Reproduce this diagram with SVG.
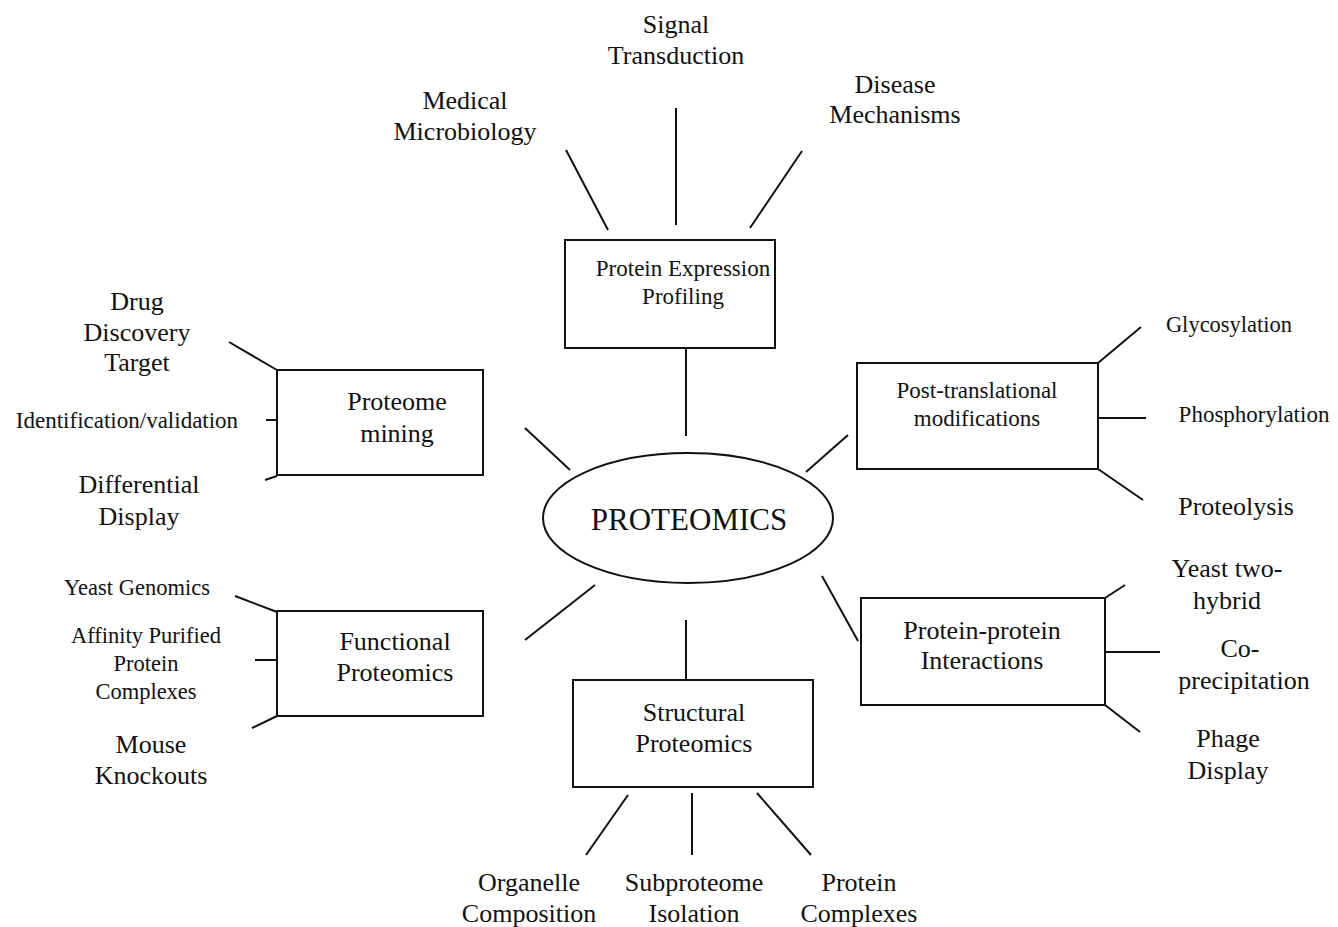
<svg xmlns="http://www.w3.org/2000/svg" width="1338" height="927" viewBox="0 0 1338 927">
<style>
text{font-family:"Liberation Serif","Times New Roman",serif;fill:#111;text-anchor:middle}
.l{font-size:26px}
.s{font-size:22.5px}
.b{font-size:23px}
.box{fill:#fff;stroke:#111;stroke-width:2}
.c line{stroke:#111;stroke-width:2}
</style>
<rect width="1338" height="927" fill="#fff"/>
<g class="c" id="connectors">
<line x1="686" y1="348" x2="686" y2="436"/>
<line x1="525" y1="428" x2="570" y2="470"/>
<line x1="806" y1="472" x2="848" y2="435"/>
<line x1="525" y1="640" x2="595" y2="585"/>
<line x1="822" y1="576" x2="858" y2="641"/>
<line x1="686" y1="620" x2="686" y2="680"/>
<line x1="566" y1="150" x2="608" y2="230"/>
<line x1="676" y1="108" x2="676" y2="225"/>
<line x1="802" y1="151" x2="750" y2="228"/>
<line x1="229" y1="342" x2="277" y2="370"/>
<line x1="266" y1="420" x2="277" y2="420"/>
<line x1="265" y1="480" x2="277" y2="476"/>
<line x1="1098" y1="363" x2="1141" y2="327"/>
<line x1="1098" y1="418" x2="1146" y2="418"/>
<line x1="1098" y1="469" x2="1143" y2="500"/>
<line x1="1105" y1="598" x2="1125" y2="585"/>
<line x1="1105" y1="652" x2="1160" y2="652"/>
<line x1="1105" y1="705" x2="1140" y2="732"/>
<line x1="235" y1="596" x2="277" y2="612"/>
<line x1="255" y1="660" x2="277" y2="660"/>
<line x1="252" y1="728" x2="277" y2="716"/>
<line x1="628" y1="795" x2="586" y2="855"/>
<line x1="692" y1="793" x2="692" y2="855"/>
<line x1="757" y1="793" x2="811" y2="855"/>
</g>
<g id="center">
<ellipse cx="688" cy="518" rx="145" ry="65" fill="#fff" stroke="#111" stroke-width="2"/>
<text x="689" y="530" style="font-size:31px">PROTEOMICS</text>
</g>
<g id="n-pep">
<rect class="box" x="565" y="240" width="210" height="108"/>
<text class="b" x="683" y="276">Protein Expression</text>
<text class="b" x="683" y="304">Profiling</text>
</g>
<g id="n-mining">
<rect class="box" x="277" y="370" width="206" height="105"/>
<text class="l" x="397" y="410">Proteome</text>
<text class="l" x="397" y="442">mining</text>
</g>
<g id="n-ptm">
<rect class="box" x="857" y="363" width="241" height="106"/>
<text class="b" x="977" y="398">Post-translational</text>
<text class="b" x="977" y="426">modifications</text>
</g>
<g id="n-func">
<rect class="box" x="277" y="611" width="206" height="105"/>
<text class="l" x="395" y="650">Functional</text>
<text class="l" x="395" y="681">Proteomics</text>
</g>
<g id="n-ppi">
<rect class="box" x="861" y="598" width="244" height="107"/>
<text class="l" x="982" y="639">Protein-protein</text>
<text class="l" x="982" y="669">Interactions</text>
</g>
<g id="n-struct">
<rect class="box" x="573" y="680" width="240" height="107"/>
<text class="l" x="694" y="721">Structural</text>
<text class="l" x="694" y="752">Proteomics</text>
</g>
<g id="l-signal"><text class="l" x="676" y="33">Signal</text><text class="l" x="676" y="64">Transduction</text></g>
<g id="l-medical"><text class="l" x="465" y="109">Medical</text><text class="l" x="465" y="140">Microbiology</text></g>
<g id="l-disease"><text class="l" x="895" y="93">Disease</text><text class="l" x="895" y="123">Mechanisms</text></g>
<g id="l-drug"><text class="l" x="137" y="310">Drug</text><text class="l" x="137" y="341">Discovery</text><text class="l" x="137" y="371">Target</text></g>
<g id="l-ident"><text class="b" x="127" y="428">Identification/validation</text></g>
<g id="l-diff"><text class="l" x="139" y="493">Differential</text><text class="l" x="139" y="525">Display</text></g>
<g id="l-yeastg"><text class="s" x="137" y="595">Yeast Genomics</text></g>
<g id="l-affinity"><text class="s" x="146" y="643">Affinity Purified</text><text class="s" x="146" y="671">Protein</text><text class="s" x="146" y="699">Complexes</text></g>
<g id="l-mouse"><text class="l" x="151" y="753">Mouse</text><text class="l" x="151" y="784">Knockouts</text></g>
<g id="l-glyco"><text class="s" x="1229" y="332">Glycosylation</text></g>
<g id="l-phos"><text class="b" x="1254" y="422">Phosphorylation</text></g>
<g id="l-prot"><text class="l" x="1236" y="515">Proteolysis</text></g>
<g id="l-y2h"><text class="l" x="1227" y="577">Yeast two-</text><text class="l" x="1227" y="609">hybrid</text></g>
<g id="l-coprec"><text class="l" x="1240" y="657">Co-</text><text class="l" x="1244" y="689">precipitation</text></g>
<g id="l-phage"><text class="l" x="1228" y="747">Phage</text><text class="l" x="1228" y="779">Display</text></g>
<g id="l-organelle"><text class="l" x="529" y="891">Organelle</text><text class="l" x="529" y="922">Composition</text></g>
<g id="l-subprot"><text class="l" x="694" y="891">Subproteome</text><text class="l" x="694" y="922">Isolation</text></g>
<g id="l-complex"><text class="l" x="859" y="891">Protein</text><text class="l" x="859" y="922">Complexes</text></g>
</svg>
